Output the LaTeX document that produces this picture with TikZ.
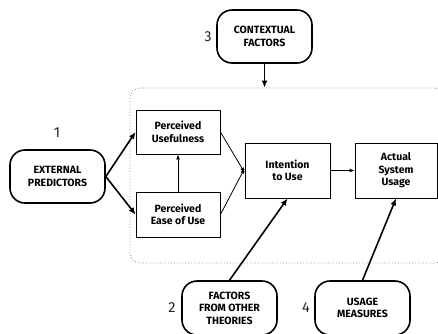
\documentclass[tikz,border=0pt]{standalone}
\usepackage{fontspec}
\setmainfont{Fira Sans}
\usetikzlibrary{arrows.meta}
\begin{document}
\begin{tikzpicture}[x=1pt,y=-1pt,
  term/.style={draw, line width=1.6pt, rounded corners=15pt, align=center, inner sep=0pt,
    minimum width=95pt, minimum height=53pt, font=\bfseries\fontsize{10.5}{12.5}\selectfont},
  cbox/.style={draw, line width=0.9pt, align=center, inner sep=0pt,
    font=\bfseries\fontsize{10.5}{12.5}\selectfont},
  num/.style={font=\fontsize{14.5}{16}\selectfont, text=black!85},
  thick arr/.style={line width=1.6pt, -{Latex[length=7pt,width=6pt]}},
  thin arr/.style={line width=0.8pt, -{Latex[length=5pt,width=4pt]}}]
\clip (0,0) rectangle (438,333);
\fill[white] (0,0) rectangle (438,333);
\node[draw=black!45, dotted, line width=0.8pt, rounded corners=10pt, minimum width=315pt, minimum height=175pt, inner sep=0pt] (frame) at (287.5,175.5) {};
\node[term] (ctx) at (264.5,36.5) {CONTEXTUAL\\FACTORS};
\node[term] (ext) at (57.5,176.5) {EXTERNAL\\PREDICTORS};
\node[term, minimum height=54pt] (fac) at (229.5,308) {FACTORS\\FROM OTHER\\THEORIES};
\node[term, minimum height=54pt] (use) at (362.5,308) {USAGE\\MEASURES};
\node[cbox, minimum width=84pt, minimum height=44pt] (pu) at (178,132) {Perceived\\Usefulness};
\node[cbox, minimum width=84pt, minimum height=45pt] (peou) at (178,214.5) {Perceived\\Ease of Use};
\node[cbox, minimum width=85pt, minimum height=55pt] (itu) at (287.5,170.5) {Intention\\to Use};
\node[cbox, minimum width=82pt, minimum height=55pt] (asu) at (396,170.5) {Actual\\System\\Usage};
\node[num] (n3) at (208,37) {3};
\node[num] (n1) at (57,133) {1};
\node[num] (n2) at (172,308) {2};
\node[num] (n4) at (306,308) {4};
\draw[thick arr] (ctx.south) -- (ctx.south |- frame.north);
\draw[thick arr] (ext.east) -- (pu.west);
\draw[thick arr] (ext.east) -- (peou.west);
\draw[thin arr] (peou.north) -- (pu.south);
\draw[thin arr] (pu.east) -- ([yshift=-2pt]itu.west);
\draw[thin arr] (peou.east) -- ([yshift=2pt]itu.west);
\draw[thin arr] (itu.east) -- (asu.west);
\draw[thick arr] (fac.north) -- (itu.south);
\draw[thick arr] (use.north) -- (asu.south);
\end{tikzpicture}
\end{document}
